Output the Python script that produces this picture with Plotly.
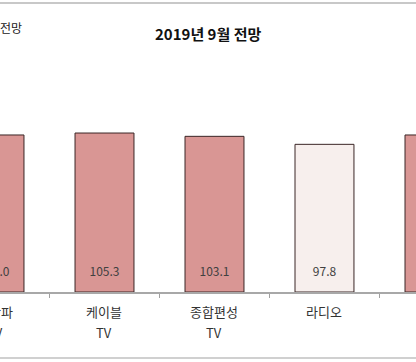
import plotly.graph_objects as go

# ---- data ----
categories = ["지상파 TV", "케이블 TV", "종합편성 TV", "라디오", "신문"]
values = [104.0, 105.3, 103.1, 97.8, 104.0]
tick_labels = [["지상파", "TV"], ["케이블", "TV"], ["종합편성", "TV"], ["라디오"], ["신문"]]
bar_colors = ["#d99694", "#d99694", "#d99694", "#f7efed", "#d99694"]
title_text = "2019년 9월 전망"
left_title_text = "전망"

# ---- layout constants ----
W, H = 416, 362
MARGIN_B = 70
PLOT_H = H - MARGIN_B
X_RANGE = [0.05, 3.832]
Y_MAX = 193.4
FONT = "Noto Sans CJK KR, Noto Sans, sans-serif"


def px_to_paper_y(py):
    return (PLOT_H - py) / PLOT_H


def cat_to_paper_x(i):
    return (i - X_RANGE[0]) / (X_RANGE[1] - X_RANGE[0])


fig = go.Figure()
fig.add_trace(go.Bar(
    x=categories, y=values,
    width=0.536,
    marker=dict(color=bar_colors, line=dict(color="#3a2626", width=1)),
    hoverinfo="skip",
))
# value labels near bar bottoms
label_y = Y_MAX * 19 / PLOT_H
fig.add_trace(go.Scatter(
    x=categories, y=[label_y] * len(values),
    mode="text", text=[f"{v:.1f}" for v in values],
    textfont=dict(family=FONT, size=12, color="#404040"),
    cliponaxis=True, hoverinfo="skip",
))

annotations = []
for i, (cat, lines) in enumerate(zip(categories, tick_labels)):
    frac = cat_to_paper_x(i)
    for j, line in enumerate(lines):
        if 0 <= frac <= 1:
            xr, xv = "x", cat
        else:
            xr, xv = "paper", frac
        annotations.append(dict(
            x=xv, xref=xr, y=0, yref="paper", yanchor="middle", xanchor="center",
            yshift=-19 - 21 * j, showarrow=False, text=line,
            font=dict(family=FONT, size=13, color="#333333"),
        ))

annotations.append(dict(
    x=0.5, xref="paper", y=px_to_paper_y(33), yref="paper",
    xanchor="center", yanchor="middle", showarrow=False,
    text=f"<b>{title_text}</b>",
    font=dict(family=FONT, size=15, color="#111111"),
))
annotations.append(dict(
    x=0, xref="paper", y=px_to_paper_y(27), yref="paper",
    xanchor="left", yanchor="middle", showarrow=False, xshift=-2,
    text=left_title_text,
    font=dict(family=FONT, size=12, color="#222222"),
))

shapes = [
    dict(type="line", xref="paper", yref="paper", x0=0, x1=1,
         y0=px_to_paper_y(3), y1=px_to_paper_y(3),
         line=dict(color="#c8c8c8", width=2)),
    dict(type="line", xref="paper", yref="paper", x0=0, x1=1,
         y0=px_to_paper_y(358), y1=px_to_paper_y(358),
         line=dict(color="#d0d0d0", width=2)),
]

fig.update_layout(
    width=W, height=H,
    margin=dict(l=0, r=0, t=0, b=MARGIN_B),
    paper_bgcolor="white", plot_bgcolor="white",
    showlegend=False,
    annotations=annotations, shapes=shapes,
    xaxis=dict(type="category", range=X_RANGE, showticklabels=False,
               tickson="boundaries", ticks="outside", ticklen=4,
               tickcolor="#a0a0a0", showline=True, linecolor="#a8a8a8",
               linewidth=1.5, showgrid=False, zeroline=False, fixedrange=True),
    yaxis=dict(range=[0, Y_MAX], visible=False, showgrid=False,
               zeroline=False, fixedrange=True),
)

fig.write_html(
    "out.html",
    config={"displayModeBar": False},
    post_script="document.body.style.margin='0px';document.body.style.overflow='hidden';",
)
